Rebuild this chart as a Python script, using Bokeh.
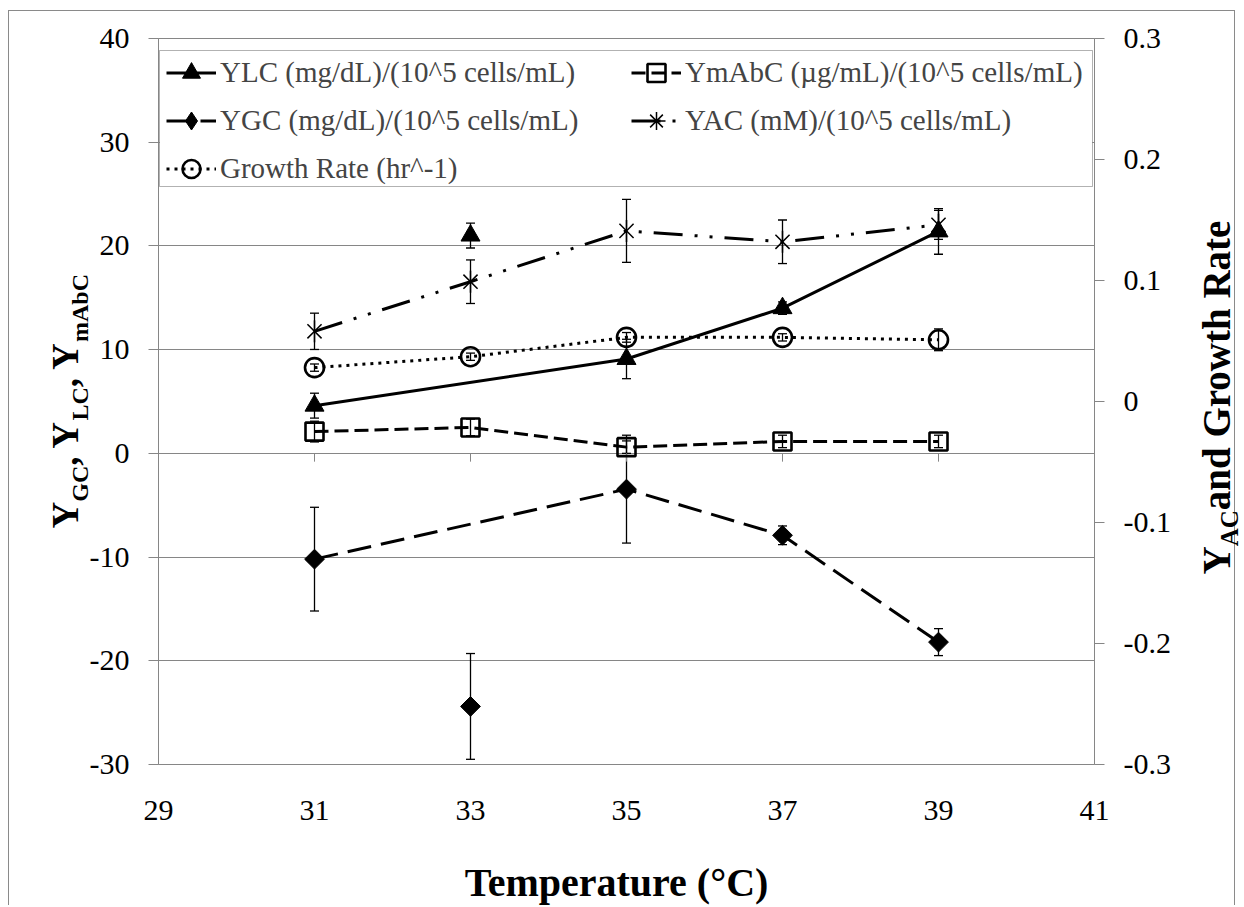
import numpy as np
from bokeh.plotting import figure
from bokeh.models import (Range1d, LinearAxis, FixedTicker, ColumnDataSource, Whisker,
                          TeeHead, Legend, LegendItem, Label, BoxAnnotation)
from bokeh.embed import file_html
from bokeh.resources import INLINE

# ---------------- data ----------------
temperature = [31, 33, 35, 37, 39]

ylc = [4.6, 21.0, 9.1, 14.0, 21.4]
ylc_err = [1.2, 1.2, 1.9, 0.6, 2.2]
ylc_joined = [True, False, True, True, True]

ymabc = [2.1, 2.5, 0.6, 1.15, 1.15]
ymabc_err = [1.0, 0.8, 0.6, 0.6, 0.6]
ymabc_joined = [True, True, True, True, True]

ygc = [-10.2, -24.4, -3.45, -7.9, -18.2]
ygc_err = [5.0, 5.1, 5.2, 0.9, 1.3]
ygc_joined = [True, False, True, True, True]

yac = [0.058, 0.099, 0.141, 0.132, 0.146]
yac_err = [0.015, 0.018, 0.026, 0.018, 0.012]
yac_joined = [True, True, True, True, True]

growth = [0.028, 0.037, 0.053, 0.053, 0.051]
growth_err = [0.003, 0.003, 0.004, 0.003, 0.009]
growth_joined = [True, True, True, True, True]

series_names = ["YLC (mg/dL)/(10^5 cells/mL)", "YmAbC (\u00b5g/mL)/(10^5 cells/mL)",
                "YGC (mg/dL)/(10^5 cells/mL)", "YAC (mM)/(10^5 cells/mL)",
                "Growth Rate (hr^-1)"]

x_ticks = [29, 31, 33, 35, 37, 39, 41]
x_tick_labels = ["29", "31", "33", "35", "37", "39", "41"]
left_ticks = [-30, -20, -10, 0, 10, 20, 30, 40]
left_tick_labels = ["-30", "-20", "-10", "0", "10", "20", "30", "40"]
right_ticks = [-0.3, -0.2, -0.1, 0.0, 0.1, 0.2, 0.3]
right_tick_labels = ["-0.3", "-0.2", "-0.1", "0", "0.1", "0.2", "0.3"]

x_title = "Temperature (\u00b0C)"
left_title_runs = [("Y", 0), ("GC", 1), (", Y", 0), ("LC", 1), (", Y", 0), ("mAbC", 1)]
right_title_runs = [("Y", 0), ("AC", 1), (" and Growth Rate", 0)]

# ---------------- style ----------------
GRAY = "#868686"
FONT = "Liberation Serif"
PAGE_OX, PAGE_OY = 9, 11          # canvas origin on the page (margin + 1px border)
W, H = 1227, 895
FL, FR, FT, FB = 158, 1094, 38, 764   # frame edges on the page

p = figure(width=W, height=H, output_backend="svg", toolbar_location=None,
           x_range=Range1d(29, 41), y_range=Range1d(-30, 40),
           min_border_left=FL - PAGE_OX, min_border_right=W - (FR - PAGE_OX),
           min_border_top=FT - PAGE_OY, min_border_bottom=H - (FB - PAGE_OY))
p.styles = {"margin-left": "8px", "margin-top": "10px",
            "border-left": "1px solid #8a8a8a", "border-top": "1px solid #8a8a8a",
            "border-right": "1px solid #8a8a8a"}
p.extra_y_ranges = {"right": Range1d(-0.3, 0.3)}
p.outline_line_color = GRAY
p.outline_line_width = 1
p.background_fill_color = "white"
p.border_fill_color = "white"

# grid
p.xgrid.visible = False
p.ygrid.ticker = FixedTicker(ticks=left_ticks)
p.ygrid.grid_line_color = GRAY
p.ygrid.grid_line_width = 1

# x axis (labels only at bottom; tick marks at y=0)
xa = p.xaxis[0]
xa.ticker = FixedTicker(ticks=x_ticks)
xa.major_label_overrides = dict(zip(x_ticks, x_tick_labels))
xa.axis_line_color = None
xa.major_tick_line_color = None
xa.minor_tick_line_color = None
xa.major_label_standoff = 30
xa.major_label_text_font = FONT
xa.major_label_text_font_size = "30px"
xa.major_label_text_color = "black"

# left axis
ya = p.yaxis[0]
ya.ticker = FixedTicker(ticks=left_ticks)
ya.major_label_overrides = dict(zip(left_ticks, left_tick_labels))
ya.axis_line_color = GRAY
ya.major_tick_line_color = GRAY
ya.major_tick_out = 10
ya.major_tick_in = 0
ya.minor_tick_line_color = None
ya.major_label_standoff = 19
ya.major_label_text_font = FONT
ya.major_label_text_font_size = "30px"
ya.major_label_text_color = "black"

# right axis
ra = LinearAxis(y_range_name="right", ticker=FixedTicker(ticks=right_ticks))
ra.major_label_overrides = dict(zip(right_ticks, right_tick_labels))
ra.axis_line_color = GRAY
ra.major_tick_line_color = GRAY
ra.major_tick_out = 10
ra.major_tick_in = 0
ra.minor_tick_line_color = None
ra.major_label_standoff = 19
ra.major_label_text_font = FONT
ra.major_label_text_font_size = "30px"
ra.major_label_text_color = "black"
p.add_layout(ra, "right")

# x tick marks hanging below the zero line
p.segment(x0=x_ticks, y0=[0] * len(x_ticks), x1=x_ticks, y1=[-0.8] * len(x_ticks),
          line_color=GRAY, line_width=1)


def joined(xs, ys, mask):
    return ([x for x, m in zip(xs, mask) if m], [y for y, m in zip(ys, mask) if m])


def add_errors(ys, errs, rng="default"):
    src = ColumnDataSource(dict(x=temperature,
                                lower=[y - e for y, e in zip(ys, errs)],
                                upper=[y + e for y, e in zip(ys, errs)]))
    w = Whisker(source=src, base="x", lower="lower", upper="upper", dimension="height",
                line_color="black", line_width=1.3,
                upper_head=TeeHead(size=9, line_color="black", line_width=1.3),
                lower_head=TeeHead(size=9, line_color="black", line_width=1.3))
    if rng != "default":
        w.y_range_name = rng
    p.add_layout(w)


# YLC
xl, yl = joined(temperature, ylc, ylc_joined)
r1l = p.line(xl, yl, line_color="black", line_width=3)
add_errors(ylc, ylc_err)
r1m = p.scatter(temperature, ylc, marker="triangle", size=19, color="black")

# YmAbC
xl, yl = joined(temperature, ymabc, ymabc_joined)
r2l = p.line(xl, yl, line_color="black", line_width=3, line_dash="14 6")
add_errors(ymabc, ymabc_err)
r2m = p.scatter(temperature, ymabc, marker="square", size=18, fill_color=None,
                line_color="black", line_width=2.6)

# YGC
xl, yl = joined(temperature, ygc, ygc_joined)
r3l = p.line(xl, yl, line_color="black", line_width=3, line_dash="24 10")
add_errors(ygc, ygc_err)
r3m = p.scatter(temperature, ygc, marker="square", angle=np.pi / 4, size=14, color="black")
# same points as a tiny diamond: only its legend swatch is seen
r3k = p.scatter(temperature, ygc, marker="diamond", size=0.1, color="black")

# YAC (right axis)
xl, yl = joined(temperature, yac, yac_joined)
r4l = p.line(xl, yl, line_color="black", line_width=3, line_dash="29 12 3 12 3 12",
             y_range_name="right")
add_errors(yac, yac_err, "right")
r4m = p.scatter(temperature, yac, marker="x", size=20, line_color="black",
                line_width=1.5, y_range_name="right")
r4v = p.scatter(temperature, yac, marker="dash", angle=np.pi / 2, size=22,
                line_color="black", line_width=1.5, y_range_name="right")
r4k = p.scatter(temperature, yac, marker="asterisk", size=0.1, line_color="black",
                line_width=1.5, y_range_name="right")

# Growth rate (right axis)
xl, yl = joined(temperature, growth, growth_joined)
r5l = p.line(xl, yl, line_color="black", line_width=3, line_dash="3 5",
             y_range_name="right")
add_errors(growth, growth_err, "right")
r5m = p.scatter(temperature, growth, marker="circle", size=19, fill_color=None,
                line_color="black", line_width=2.6, y_range_name="right")


# ---------------- legend ----------------
def px_to_x(px):
    return 29 + (px - FL) / (FR - FL) * 12


def py_to_y(py):
    return 40 - (py - FT) / (FB - FT) * 70


box = BoxAnnotation(left=px_to_x(159), right=px_to_x(1092), top=py_to_y(50),
                    bottom=py_to_y(186), fill_color="white", fill_alpha=1,
                    line_color="black", line_width=1, level="annotation")
p.add_layout(box)

GH = 45
leg_common = dict(label_text_font=FONT, label_text_font_size="29px",
                  glyph_width=50, glyph_height=GH, label_height=GH, label_standoff=4,
                  spacing=3, padding=0, margin=0, border_line_alpha=0,
                  background_fill_alpha=0, orientation="vertical")
top_row_center = 72
leg1_bottom = top_row_center - GH / 2 + 3 * GH + 2 * 3
leg2_bottom = top_row_center - GH / 2 + 2 * GH + 3
leg1 = Legend(items=[LegendItem(label=series_names[0], renderers=[r1l, r1m]),
                     LegendItem(label=series_names[2], renderers=[r3l, r3k]),
                     LegendItem(label=series_names[4], renderers=[r5l, r5m])],
              location=(166 - FL, FB - leg1_bottom), **leg_common)
leg2 = Legend(items=[LegendItem(label=series_names[1], renderers=[r2l, r2m]),
                     LegendItem(label=series_names[3], renderers=[r4l, r4k])],
              location=(631 - FL, FB - leg2_bottom), **leg_common)
p.add_layout(leg1)
p.add_layout(leg2)

# ---------------- axis titles: transparent overlay figure in page pixels ----------------
PW, PH = 1244, 905
t = figure(width=PW, height=PH, output_backend="svg", toolbar_location=None,
           x_range=Range1d(0, PW), y_range=Range1d(PH, 0), min_border=0,
           x_axis_location=None, y_axis_location=None)
t.xgrid.visible = False
t.ygrid.visible = False
t.outline_line_color = None
t.background_fill_alpha = 0
t.border_fill_alpha = 0
t.styles = {"position": "absolute", "left": "0px", "top": "0px"}

BW = {"Y": 0.722, "G": 0.778, "C": 0.722, "L": 0.667, "m": 0.833, "A": 0.722,
      "b": 0.556, ",": 0.25, " ": 0.25, "a": 0.5, "n": 0.556, "d": 0.556, "r": 0.444,
      "o": 0.5, "w": 0.722, "t": 0.333, "h": 0.556, "R": 0.722, "e": 0.444}


def add_label(text, x_page, y_page, size, angle=0.0, align="left"):
    t.add_layout(Label(x=x_page, y=y_page, text=text, angle=angle, text_font=FONT,
                       text_font_style="bold", text_font_size=f"{size}px",
                       text_align=align, text_baseline="alphabetic", text_color="black"))


def rotated_title(runs, base_x_page, start_y_page, main, sub, sub_drop):
    y = start_y_page
    for txt, is_sub in runs:
        size = sub if is_sub else main
        add_label(txt, base_x_page + (sub_drop if is_sub else 0), y, size, np.pi / 2)
        y -= sum(BW[c] for c in txt) * size


rotated_title(left_title_runs, 65, 528, 37, 24, 14)
rotated_title(right_title_runs, 1216, 574, 39, 25, 13)
add_label(x_title, 616, 882, 40, 0.0, "center")

open("out.html", "w").write(file_html([p, t], INLINE))
